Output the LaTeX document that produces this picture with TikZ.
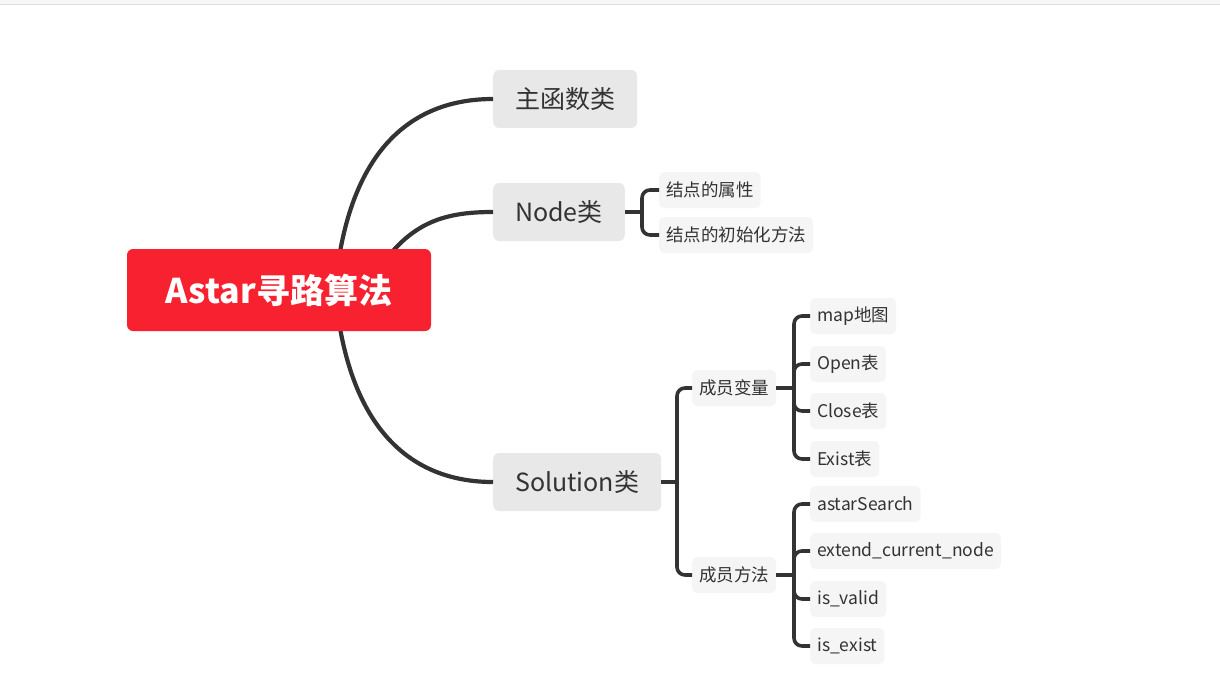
\documentclass[tikz,border=0pt]{standalone}
\usepackage{fontspec}
\setmainfont{Noto Sans CJK SC}
\usetikzlibrary{positioning}

\definecolor{rootred}{HTML}{F72130}
\definecolor{inkgray}{HTML}{333333}
\definecolor{topicgray}{HTML}{E8E8E8}
\definecolor{leafgray}{HTML}{F5F5F5}

\tikzset{
  rootbox/.style={fill=rootred, text=white, rounded corners=6pt,
    minimum width=304pt, minimum height=82pt,
    font=\fontsize{34}{38}\selectfont\bfseries},
  topic/.style={fill=topicgray, text=inkgray, rounded corners=6pt,
    minimum height=58pt, inner xsep=22pt, anchor=west,
    font=\fontsize{25}{29}\selectfont},
  leaf/.style={fill=leafgray, text=inkgray, rounded corners=5pt,
    minimum height=36pt, inner xsep=7pt, anchor=west,
    font=\fontsize{17.5}{21}\selectfont},
  trunk/.style={draw=inkgray, line width=4.2pt},
  twig/.style={draw=inkgray, line width=3.6pt, rounded corners=8pt},
}

\begin{document}
\begin{tikzpicture}[x=1pt, y=-1pt]
\useasboundingbox (0,0) rectangle (1220,698);
\fill[gray!6] (0,0) rectangle (1220,4);
\draw[gray!25, line width=1pt] (0,4.5) -- (1220,4.5);

% main topics
\node[topic] (mainCls) at (493,99) {主函数类};
\node[topic] (nodeCls) at (493,212) {Node类};
\node[topic] (solCls) at (493,482) {Solution类};

% curves out of the root
\draw[trunk] (340,252) .. controls (360,140) and (420,99) .. (mainCls.west);
\draw[trunk] (392,252) .. controls (420,220) and (450,212) .. (nodeCls.west);
\draw[trunk] (340,328) .. controls (360,440) and (420,482) .. (solCls.west);

\node[rootbox] (root) at (279,290) {Astar寻路算法};

% Node class
\node[leaf] (nodeAttr) at (659,190) {结点的属性};
\node[leaf] (nodeInit) at (659,235) {结点的初始化方法};
\coordinate (jNode) at (642,212);
\draw[twig] (nodeCls.east) -- (jNode);
\draw[twig] (jNode) |- (nodeAttr.west);
\draw[twig] (jNode) |- (nodeInit.west);

% Solution class
\node[leaf] (memVar) at (692,388) {成员变量};
\node[leaf] (memFun) at (692,575) {成员方法};
\coordinate (jSol) at (677,482);
\draw[twig] (solCls.east) -- (jSol);
\draw[twig] (jSol) |- (memVar.west);
\draw[twig] (jSol) |- (memFun.west);

% member variables
\node[leaf] (mapTab) at (810,316) {map地图};
\node[leaf] (openTab) at (810,364) {Open表};
\node[leaf] (closeTab) at (810,411) {Close表};
\node[leaf] (existTab) at (810,459) {Exist表};
\coordinate (jVar) at (794,388);
\draw[twig] (memVar.east) -- (jVar);
\foreach \leafname in {mapTab,openTab,closeTab,existTab}
  \draw[twig] (jVar) |- (\leafname.west);

% member functions
\node[leaf] (searchFn) at (810,504) {astarSearch};
\node[leaf] (extendFn) at (810,551) {extend\_current\_node};
\node[leaf] (validFn) at (810,599) {is\_valid};
\node[leaf] (existFn) at (810,646) {is\_exist};
\coordinate (jFun) at (794,575);
\draw[twig] (memFun.east) -- (jFun);
\foreach \leafname in {searchFn,extendFn,validFn,existFn}
  \draw[twig] (jFun) |- (\leafname.west);
\end{tikzpicture}
\end{document}
